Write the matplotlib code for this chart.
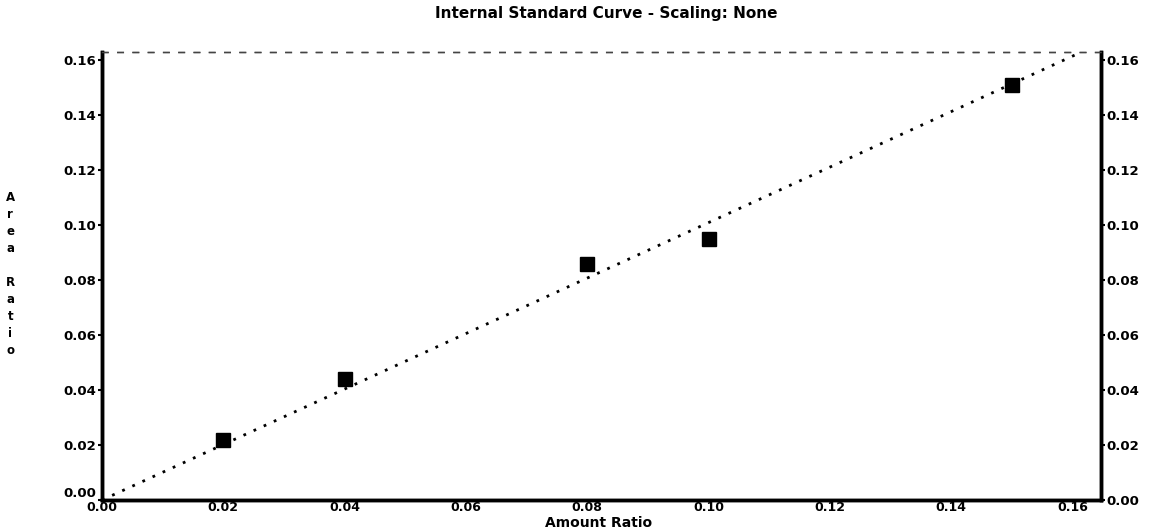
import matplotlib
matplotlib.use("Agg")
import matplotlib.pyplot as plt
import numpy as np

# calibration points
amount_ratio = [0.02, 0.04, 0.08, 0.10, 0.15]
area_ratio = [0.022, 0.044, 0.086, 0.095, 0.151]

# fitted line end points
fit_x = [0.0, 0.1615]
fit_y = [0.0, 0.163]

tick_vals = [0.00, 0.02, 0.04, 0.06, 0.08, 0.10, 0.12, 0.14, 0.16]
tick_labels = ["0.00", "0.02", "0.04", "0.06", "0.08", "0.10", "0.12", "0.14", "0.16"]

plt.rcParams['font.family'] = ['DejaVu Sans']
plt.rcParams['font.weight'] = 'bold'

fig = plt.figure(figsize=(11.49, 5.30), dpi=100)
ax = fig.add_axes([0.0888, 0.0566, 0.8694, 0.8453])

ax.plot(fit_x, fit_y, color='black', linewidth=2, linestyle=(0, (1, 3)))
ax.plot(amount_ratio, area_ratio, linestyle='none', marker='s',
        markersize=10.5, color='black')

ax.set_xlim(0, 0.1647)
ax.set_ylim(0, 0.163)

ax.set_xticks(tick_vals)
ax.set_xticklabels(tick_labels, fontsize=9, fontweight='bold')
ax.set_yticks(tick_vals)
ax.set_yticklabels(tick_labels, fontsize=9.5, fontweight='bold')
ax.tick_params(axis='y', direction='out', length=3, width=1.5, pad=1)
ax.tick_params(axis='x', direction='out', length=1, width=1.5, pad=0)
# lift the bottom-left label a little so it clears the x "0.00"
ax.get_yticklabels()[0].set_va('bottom')

# right-hand duplicate axis
ax2 = ax.twinx()
ax2.set_ylim(ax.get_ylim())
ax2.set_yticks(tick_vals)
ax2.set_yticklabels(tick_labels, fontsize=9.5, fontweight='bold')
ax2.tick_params(axis='y', direction='out', length=3, width=1.5, pad=1)

for a in (ax, ax2):
    for side in ('left', 'right', 'bottom'):
        a.spines[side].set_linewidth(2.5)
    a.spines['top'].set_linewidth(1.0)
    a.spines['top'].set_color('#444444')
    a.spines['top'].set_linestyle((0, (4, 7)))

fig.text(0.528, 0.975, "Internal Standard Curve - Scaling: None",
         ha='center', va='center', fontsize=11, fontweight='bold')
fig.text(0.521, 0.013, "Amount Ratio", ha='center', va='center',
         fontsize=10, fontweight='bold')
fig.text(0.009, 0.483, "A\nr\ne\na\n \nR\na\nt\ni\no", ha='center', va='center',
         fontsize=8.5, fontweight='bold', linespacing=1.4)

fig.savefig("out.png", dpi=100)
